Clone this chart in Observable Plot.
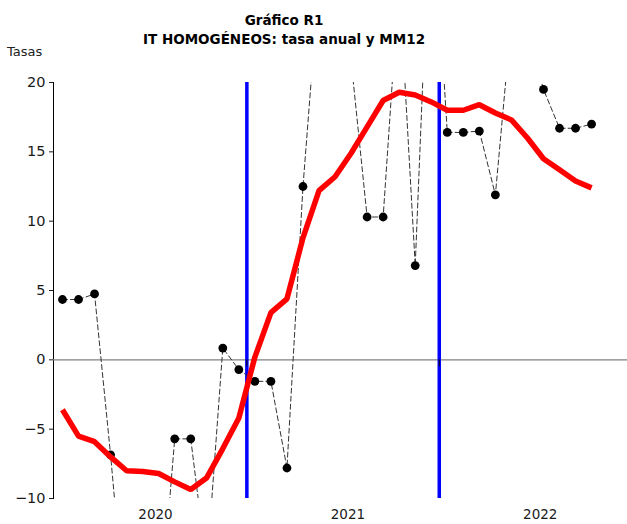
<!DOCTYPE html>
<html>
<head>
<meta charset="utf-8">
<script src="https://cdn.jsdelivr.net/npm/d3@7"></script>
<script src="https://cdn.jsdelivr.net/npm/@observablehq/plot@0.6"></script>
<style>
  body { margin: 0; background: #fff; font-family: "DejaVu Sans", Verdana, sans-serif; }
  #wrap { position: relative; width: 627px; height: 524px; overflow: hidden; }
  #head { position: relative; width: 627px; height: 70px; }
  .t { position: absolute; left: 0; width: 568px; text-align: center; font-weight: bold; font-size: 13.5px; color: #000; white-space: nowrap; }
  #t1 { top: 12px; }
  #t2 { top: 31px; }
  #ylab { position: absolute; left: 7px; top: 44px; font-size: 13px; color: #222; }
</style>
</head>
<body>
<div id="wrap">
  <div id="head">
    <div class="t" id="t1">Gráfico R1</div>
    <div class="t" id="t2">IT HOMOGÉNEOS: tasa anual y MM12</div>
    <div id="ylab">Tasas</div>
  </div>
  <div id="chart"></div>
</div>
<script>
// Months (Jan 2020 .. Oct 2022)
const meses = [
  "ene-20","feb-20","mar-20","abr-20","may-20","jun-20","jul-20","ago-20","sep-20","oct-20","nov-20","dic-20",
  "ene-21","feb-21","mar-21","abr-21","may-21","jun-21","jul-21","ago-21","sep-21","oct-21","nov-21","dic-21",
  "ene-22","feb-22","mar-22","abr-22","may-22","jun-22","jul-22","ago-22","sep-22","oct-22"
];
// Tasa anual (values beyond the axis range are estimated from the line slopes)
const tasaAnual = [
  4.35, 4.35, 4.75, -6.85, -19.8, -22.0, -19.7, -5.7, -5.7, -15.0, 0.85, -0.7,
  -1.55, -1.55, -7.8, 12.5, 27.4, 25.0, 21.6, 10.3, 10.3, 27.4, 6.8, 35.0,
  16.4, 16.4, 16.5, 11.9, 24.6, 24.0, 19.5, 16.7, 16.7, 17.0
];
// MM12
const mm12 = [
  -3.6, -5.5, -5.9, -7.0, -8.0, -8.05, -8.2, -8.8, -9.35, -8.5, -6.4, -4.2,
  0.2, 3.4, 4.4, 8.8, 12.2, 13.2, 14.9, 16.8, 18.7, 19.3, 19.1, 18.6,
  18.0, 18.0, 18.4, 17.8, 17.3, 16.0, 14.5, 13.7, 12.9, 12.4
];
const years = ["2020", "2021", "2022"];
const yTicks = [-10, -5, 0, 5, 10, 15, 20];

const data = meses.map((m, i) => ({mes: m, i, tasa: tasaAnual[i], mm: mm12[i]}));
// year boundaries (between December and January)
const yearBounds = years.slice(1).map((y, k) => (k + 1) * 12 - 0.5);
const yearCenters = years.map((y, k) => k * 12 + 5.8);

const chart = Plot.plot({
  width: 627,
  height: 454,
  marginTop: 12,
  marginBottom: 26,
  marginLeft: 53,
  marginRight: 0,
  style: {fontFamily: "DejaVu Sans, Verdana, sans-serif", fontSize: "13px", color: "#1a1a1a", background: "#fff"},
  x: {domain: [-0.56, 35.24], axis: null},
  y: {domain: [-10, 20], axis: null},
  marks: [
    Plot.axisY({ticks: yTicks, tickSize: 4, tickPadding: 4, label: null, fontSize: 14.5}),
    Plot.axisX({ticks: yearCenters, tickFormat: (d, k) => years[k], tickSize: 0, tickPadding: 11, label: null, fontSize: 13.5}),
    Plot.frame({anchor: "left", stroke: "#000"}),
    Plot.ruleY([0], {stroke: "#808080", strokeWidth: 1.3}),
    Plot.ruleX(yearBounds, {stroke: "#0000ff", strokeWidth: 3.5}),
    Plot.ruleX(yearBounds, {y1: 0, y2: -0.5, stroke: "#000", strokeWidth: 1}),
    Plot.line(data, {x: "i", y: "tasa", stroke: "#333", strokeWidth: 1, strokeDasharray: "5,3", clip: true}),
    Plot.dot(data, {x: "i", y: "tasa", r: 4.4, fill: "#000", stroke: "none", clip: true}),
    Plot.line(data, {x: "i", y: "mm", stroke: "#ff0000", strokeWidth: 5.5, strokeLinejoin: "miter", strokeLinecap: "butt", clip: true})
  ]
});
document.getElementById("chart").appendChild(chart);
</script>
</body>
</html>
